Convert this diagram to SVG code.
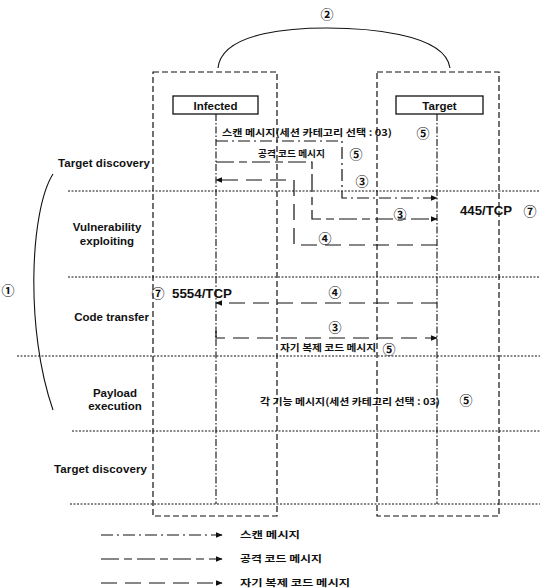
<svg xmlns="http://www.w3.org/2000/svg" width="546" height="588" viewBox="0 0 546 588">
<style>
.t{font-family:"Liberation Sans",Arial,sans-serif;font-weight:bold;font-size:11.5px;fill:#111}
.k{font-family:"Noto Sans CJK KR","Liberation Sans",sans-serif;font-weight:bold;font-size:9.5px;fill:#111}
.c{font-family:"Noto Sans CJK KR","DejaVu Sans",sans-serif;font-weight:bold;font-size:13px;fill:#111}
.p{font-family:"Liberation Sans",Arial,sans-serif;font-weight:bold;font-size:13px;fill:#111}
.box{fill:none;stroke:#111;stroke-width:1.2;stroke-dasharray:6,3}
.life{fill:none;stroke:#111;stroke-width:1.1;stroke-dasharray:7,2,1.5,2}
.sep{fill:none;stroke:#111;stroke-width:1;stroke-dasharray:2,1.5}
.scan{fill:none;stroke:#111;stroke-width:1.2;stroke-dasharray:12,4,2,4}
.atk{fill:none;stroke:#111;stroke-width:1.2;stroke-dasharray:18,5,8,5}
.self{fill:none;stroke:#111;stroke-width:1.2;stroke-dasharray:16,8}
</style>
<defs>
<marker id="ar" viewBox="0 0 10 10" refX="9" refY="5" markerWidth="7" markerHeight="7" orient="auto" markerUnits="userSpaceOnUse">
<path d="M0,1 L10,5 L0,9 z" fill="#111"/>
</marker>
</defs>

<!-- arc and 2 -->
<path d="M218,68 C222,30 300,28 327,28 C360,28 445,32 450,68" fill="none" stroke="#111" stroke-width="1.1"/>
<text class="c" x="327" y="19" text-anchor="middle">②</text>

<!-- separators -->
<g id="separators">
<line class="sep" x1="68" y1="191" x2="540" y2="191"/>
<line class="sep" x1="68" y1="277" x2="540" y2="277"/>
<line class="sep" x1="17" y1="356" x2="540" y2="356"/>
<line class="sep" x1="72" y1="431" x2="540" y2="431"/>
<line class="sep" x1="70" y1="504" x2="540" y2="504"/>
</g>

<!-- nodes -->
<g id="infected">
<rect class="box" x="153" y="72" width="124" height="444"/>
<rect x="173" y="96" width="85" height="18" fill="#fff" stroke="#111" stroke-width="1.3"/>
<text class="t" x="215.5" y="109.5" text-anchor="middle" font-size="11">Infected</text>
<line class="life" x1="216" y1="114" x2="216" y2="504"/>
</g>
<g id="target">
<rect class="box" x="377" y="72" width="122" height="444"/>
<rect x="396" y="96" width="87" height="18" fill="#fff" stroke="#111" stroke-width="1.3"/>
<text class="t" x="439.5" y="109.5" text-anchor="middle" font-size="11">Target</text>
<line class="life" x1="437" y1="114" x2="437" y2="504"/>
</g>

<!-- phase labels -->
<g id="phases">
<text class="t" x="150" y="167" text-anchor="end" textLength="92">Target discovery</text>
<text class="t" x="107" y="231" text-anchor="middle">Vulnerability</text>
<text class="t" x="107" y="245" text-anchor="middle">exploiting</text>
<text class="t" x="149" y="321" text-anchor="end">Code transfer</text>
<text class="t" x="115" y="397" text-anchor="middle">Payload</text>
<text class="t" x="115" y="410" text-anchor="middle">execution</text>
<text class="t" x="147" y="473" text-anchor="end" textLength="93">Target discovery</text>
<path d="M53,174 C30,210 25,330 53,410" fill="none" stroke="#111" stroke-width="1.1"/>
<text class="c" x="8" y="295" text-anchor="middle">①</text>
</g>

<!-- connectors -->
<g id="connectors">
<path class="scan" d="M216,141 H342 V198 H437" marker-end="url(#ar)"/>
<path class="atk" d="M216,162 H312 V219 H437" marker-end="url(#ar)"/>
<path class="self" d="M437,245 H294 V180 H216" marker-end="url(#ar)"/>
<path class="self" d="M437,303 H216" marker-end="url(#ar)"/>
<path class="self" d="M216,331 V338 H437" marker-end="url(#ar)"/>
</g>

<!-- message labels -->
<g id="labels">
<text class="k" x="222" y="136" textLength="170" lengthAdjust="spacingAndGlyphs">스캔 메시지(세션 카테고리 선택 : 03)</text>
<text class="c" x="423" y="138" text-anchor="middle">⑤</text>
<text class="k" x="258" y="157" textLength="67" lengthAdjust="spacingAndGlyphs">공격 코드 메시지</text>
<text class="c" x="356" y="159" text-anchor="middle">⑤</text>
<text class="c" x="362" y="186" text-anchor="middle">③</text>
<text class="c" x="400" y="219" text-anchor="middle">③</text>
<text class="c" x="325" y="243" text-anchor="middle">④</text>
<text class="p" x="460" y="215" textLength="52" lengthAdjust="spacingAndGlyphs">445/TCP</text>
<text class="c" x="530" y="216" text-anchor="middle">⑦</text>
<text class="c" x="158" y="298" text-anchor="middle">⑦</text>
<text class="p" x="172" y="298" textLength="60" lengthAdjust="spacingAndGlyphs">5554/TCP</text>
<text class="c" x="335" y="297" text-anchor="middle">④</text>
<text class="c" x="335" y="332" text-anchor="middle">③</text>
<text class="k" x="280" y="351" textLength="96" lengthAdjust="spacingAndGlyphs">자기 복제 코드 메시지</text>
<text class="c" x="389" y="354" text-anchor="middle">⑤</text>
<text class="k" x="260" y="405" textLength="180" lengthAdjust="spacingAndGlyphs">각 기능 메시지(세션 카테고리 선택 : 03)</text>
<text class="c" x="466" y="405" text-anchor="middle">⑤</text>
</g>

<!-- legend -->
<g id="legend">
<line class="scan" x1="101" y1="535" x2="222" y2="535" marker-end="url(#ar)"/>
<text class="k" x="240" y="538" textLength="60" lengthAdjust="spacingAndGlyphs">스캔 메시지</text>
<line class="atk" x1="101" y1="559" x2="222" y2="559" marker-end="url(#ar)"/>
<text class="k" x="240" y="562" textLength="82" lengthAdjust="spacingAndGlyphs">공격 코드 메시지</text>
<line class="self" x1="101" y1="583" x2="222" y2="583" marker-end="url(#ar)"/>
<text class="k" x="240" y="586" textLength="110" lengthAdjust="spacingAndGlyphs">자기 복제 코드 메시지</text>
</g>
</svg>
